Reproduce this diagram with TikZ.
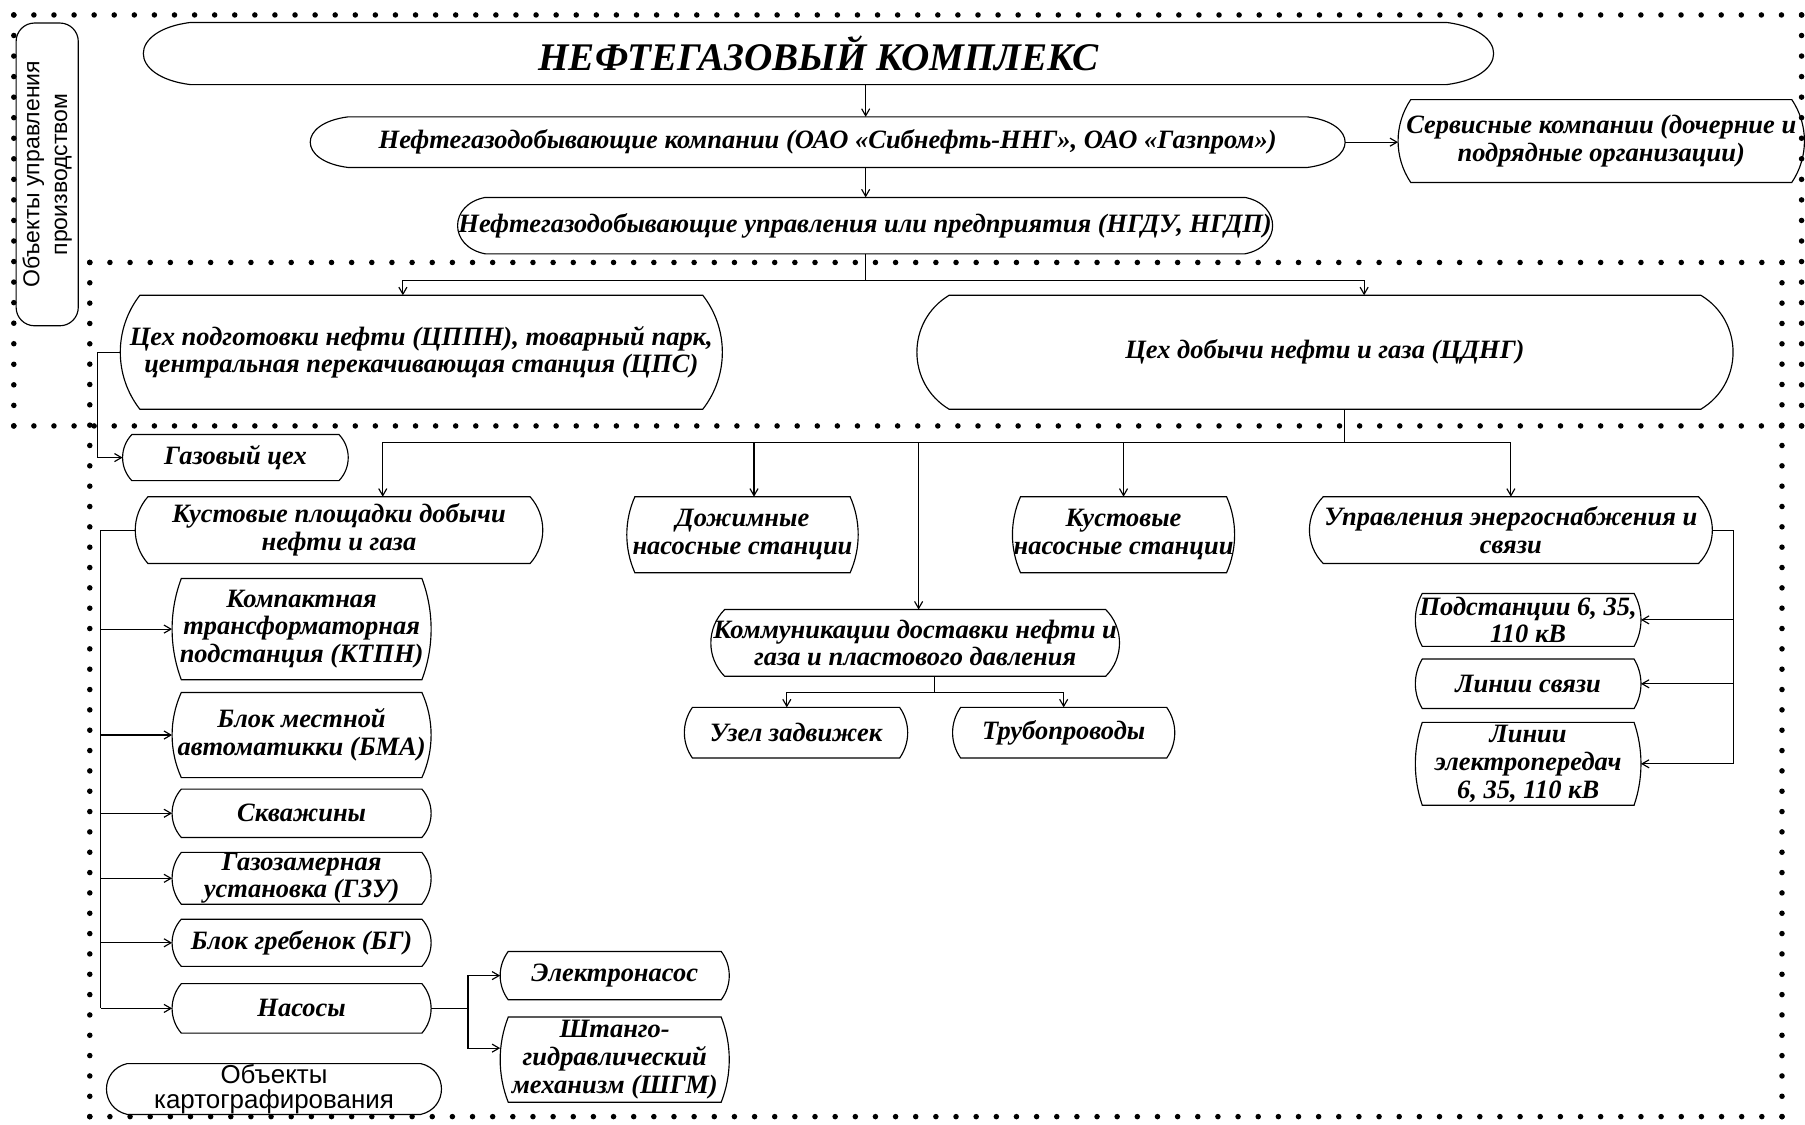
\documentclass[tikz,border=0pt]{standalone}
\usepackage{fontspec}
\setmainfont{Liberation Serif}
\setsansfont{Liberation Sans}
\usetikzlibrary{arrows.meta,calc}

% outline with bulged ends round a node: #1 node, #2 depth of the bulge
\newcommand\bulgebox[2]{%
  \draw let \p1=(#1.north west), \p2=(#1.south east),
      \n1={#2}, \n2={max((\y1-\y2)/8,(\y1-\y2)/3*(1-(2*#2/((\y1-\y2)/1pt))^2))}
    in (\x1+\n1,\y1) -- (\x2-\n1,\y1)
      .. controls (\x2+\n1/3,\y1-\n2) and (\x2+\n1/3,\y2+\n2) .. (\x2-\n1,\y2)
      -- (\x1+\n1,\y2)
      .. controls (\x1-\n1/3,\y2+\n2) and (\x1-\n1/3,\y1-\n2) .. cycle;}
% row of dots from #1 to #2 in #3 steps
\newcommand\dotrow[3]{%
  \foreach \i in {0,...,#3}
    \fill ($#1!\i/#3!#2$) circle[radius=2.4];}

\begin{document}
\begin{tikzpicture}[x=1pt,y=-1pt,line width=1pt,>={Straight Barb[angle=60:7pt]},
    blk/.style={rectangle,inner sep=0pt,align=center,
      font=\fontsize{23}{24}\selectfont\bfseries\itshape},
    sans/.style={inner sep=0pt,align=center,font=\sffamily\fontsize{20}{24}\selectfont}]
  \useasboundingbox (0,0) rectangle (1568,977);
  % frames
  \dotrow{(12,13)}{(1565,13)}{89}
  \dotrow{(1565,13)}{(1565,370)}{20}
  \dotrow{(12,370)}{(1565,370)}{89}
  \dotrow{(12,13)}{(12,370)}{20}
  \dotrow{(78,228)}{(1548,228)}{84}
  \dotrow{(1548,228)}{(1548,970)}{42}
  \dotrow{(78,970)}{(1548,970)}{84}
  \dotrow{(78,228)}{(78,970)}{42}
  \node[sans,draw,rounded corners=16,rotate=90,minimum width=263,minimum height=54] (upravobj) at (41,151.5) {Объекты управления\\производством};
  \node[sans,minimum width=290,minimum height=42,font=\sffamily\fontsize{22.5}{22}\selectfont] (karto) at (238,946) {Объекты\\картографирования};
  % top levels
  \node[blk,minimum width=1172,minimum height=53,font=\fontsize{34}{40}\selectfont\bfseries\itshape] (title) at (711,46.5) {НЕФТЕГАЗОВЫЙ КОМПЛЕКС};
  \node[blk,minimum width=898,minimum height=43] (comp) at (719,123.5) {Нефтегазодобывающие компании (ОАО «Сибнефть-ННГ», ОАО «Газпром»)};
  \node[blk,minimum width=352,minimum height=71] (serv) at (1391,122.5) {Сервисные компании (дочерние и\\подрядные организации)};
  \node[blk,minimum width=707,minimum height=48] (ngdu) at (751.5,196) {Нефтегазодобывающие управления или предприятия (НГДУ, НГДП)};
  \node[blk,minimum width=522,minimum height=98] (cppn) at (366,306) {Цех подготовки нефти (ЦППН), товарный парк,\\центральная перекачивающая станция (ЦПС)};
  \node[blk,minimum width=708,minimum height=98] (cdng) at (1151,306) {Цех добычи нефти и газа (ЦДНГ)};
  \node[blk,minimum width=195,minimum height=39] (gaz) at (204.5,397.5) {Газовый цех};
  % CDNG objects
  \node[blk,minimum width=353,minimum height=57] (kust) at (294.5,460.5) {Кустовые площадки добычи\\нефти и газа};
  \node[blk,minimum width=200,minimum height=65] (dns) at (645,464.5) {Дожимные\\насосные станции};
  \node[blk,minimum width=192,minimum height=65] (kns) at (976,464.5) {Кустовые\\насосные станции};
  \node[blk,minimum width=349,minimum height=57] (energ) at (1312.5,460.5) {Управления энергоснабжения и\\связи};
  \node[blk,minimum width=354,minimum height=57] (komm) at (795,558.5) {Коммуникации доставки нефти и\\газа и пластового давления};
  \node[blk,minimum width=193,minimum height=43] (uzel) at (691.5,636.5) {Узел задвижек};
  \node[blk,minimum width=192,minimum height=43] (trub) at (924,636.5) {Трубопроводы};
  % well pad
  \node[blk,minimum width=224,minimum height=87] (ktpn) at (262,546.5) {Компактная\\трансформаторная\\подстанция (КТПН)};
  \node[blk,minimum width=224,minimum height=73] (bma) at (262,638.5) {Блок местной\\автоматикки (БМА)};
  \node[blk,minimum width=224,minimum height=41] (skv) at (262,706.5) {Скважины};
  \node[blk,minimum width=224,minimum height=44] (gzu) at (262,763) {Газозамерная\\установка (ГЗУ)};
  \node[blk,minimum width=224,minimum height=40] (bg) at (262,819) {Блок гребенок (БГ)};
  \node[blk,minimum width=224,minimum height=42] (nasos) at (262,876) {Насосы};
  \node[blk,minimum width=198,minimum height=41] (elnas) at (534,847.5) {Электронасос};
  \node[blk,minimum width=198,minimum height=73] (shgm) at (534,920.5) {Штанго-\\гидравлический\\механизм (ШГМ)};
  % power
  \node[blk,minimum width=195,minimum height=45] (podst) at (1327.5,538.5) {Подстанции 6, 35,\\110 кВ};
  \node[blk,minimum width=195,minimum height=42] (lsv) at (1327.5,594) {Линии связи};
  \node[blk,minimum width=195,minimum height=71] (lep) at (1327.5,663.5) {Линии\\электропередач\\6, 35, 110 кВ};
  % outlines
  \foreach \bx/\dp in {title/41,comp/33,serv/11,ngdu/24,cppn/17,cdng/28,gaz/8,kust/11,dns/7,kns/7,
      energ/12,komm/12,uzel/7,trub/7,ktpn/8,bma/8,skv/8,gzu/8,bg/8,nasos/8,elnas/7,shgm/7,
      podst/6,lsv/6,lep/6,karto/18}
    {\bulgebox{\bx}{\dp}}
  % connectors
  \coordinate (axis) at (752,0);
  \draw[->] (title.south -| axis) -- (comp.north -| axis);
  \draw[->] (comp.east) -- (comp.east -| serv.west);
  \draw[->] (comp.south -| axis) -- (ngdu.north -| axis);
  \draw (ngdu.south -| axis) -- ++(0,23) coordinate (bus1);
  \draw[->] (bus1) -| ([xshift=-16]cppn.north);
  \draw[->] (bus1) -| ([xshift=34]cdng.north);
  \draw[->] (cppn.west) -- ++(-20,0) |- (gaz.west);
  \draw ([xshift=17]cdng.south) -- ++(0,29) coordinate (bus2);
  \draw[->] (bus2) -| ([xshift=38]kust.north);
  \draw[->] (bus2) -| ([xshift=10]dns.north);
  \draw[->] ([xshift=3]komm.north |- bus2) -- ([xshift=3]komm.north);
  \draw[->] (bus2) -| (kns.north);
  \draw[->] (bus2) -| (energ.north);
  \draw ([xshift=17]komm.south) -- ++(0,14) coordinate (bus3);
  \draw[->] (bus3) -| ([xshift=-8]uzel.north);
  \draw[->] (bus3) -| (trub.north);
  \draw (kust.west) -- ++(-30,0) coordinate (lbus) -- (lbus |- nasos.west);
  \foreach \n in {ktpn,bma,skv,gzu,bg,nasos}
    \draw[->] (lbus |- \n.west) -- (\n.west);
  \draw (nasos.east) -- ++(32,0) coordinate (nbus);
  \draw[->] (nbus) |- (elnas.west);
  \draw[->] (nbus) |- ([yshift=10]shgm.west);
  \draw (energ.east) -- ++(18,0) coordinate (rbus) -- (rbus |- lep.east);
  \foreach \n in {podst,lsv,lep}
    \draw[->] (rbus |- \n.east) -- (\n.east);
\end{tikzpicture}
\end{document}
